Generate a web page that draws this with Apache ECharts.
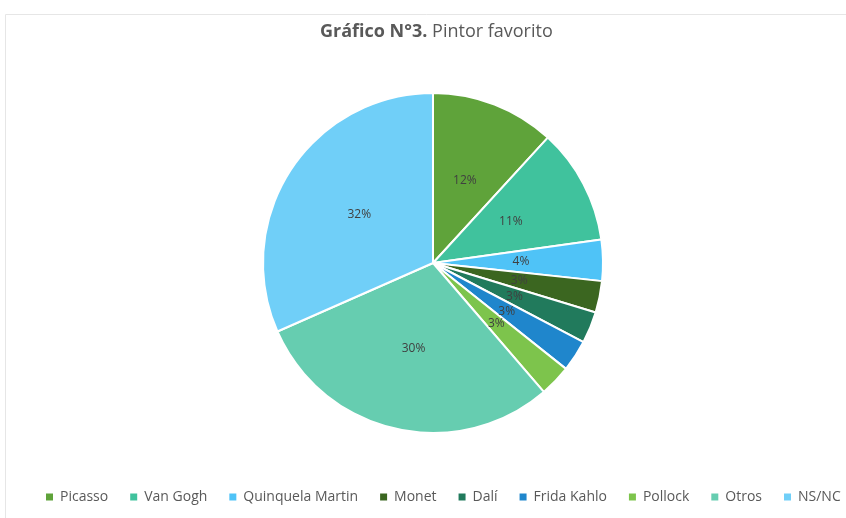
<!DOCTYPE html>
<html>
<head>
<meta charset="utf-8">
<script src="https://cdn.jsdelivr.net/npm/echarts@6/dist/echarts.min.js"></script>
<style>html,body{margin:0;padding:0;background:#fff;}#c{width:846px;height:518px;}</style>
</head>
<body>
<div id="c"></div>
<script>
const categories = ['Picasso','Van Gogh','Quinquela Martin','Monet','Dalí','Frida Kahlo','Pollock','Otros','NS/NC'];
const values = [11.8, 11.0, 3.9, 3.0, 3.0, 3.0, 3.0, 29.7, 31.6];
const colors = ['#5fa33a','#40c29d','#4fc3f7','#3b6620','#217a5c','#1f86cc','#7dc44c','#66cdb0','#70cff8'];

const chart = echarts.init(document.getElementById('c'));
chart.setOption({
  animation: false,
  backgroundColor: '#ffffff',
  graphic: [{
    type: 'rect',
    shape: {x: 5.5, y: 14.5, width: 900, height: 600},
    style: {fill: 'none', stroke: '#e6e6e6', lineWidth: 1},
    silent: true
  }],
  title: {
    text: '{b|Gráfico N°3.} {n|Pintor favorito}',
    left: 315,
    top: 18,
    textStyle: {
      fontFamily: 'Open Sans',
      fontSize: 18,
      fontWeight: 'normal',
      color: '#595959',
      rich: {
        b: {fontFamily: 'Open Sans', fontSize: 18, fontWeight: 'bold', color: '#595959'},
        n: {fontFamily: 'Open Sans', fontSize: 18, color: '#595959'}
      }
    }
  },
  legend: {
    bottom: 14,
    left: 44,
    width: 802,
    padding: 0,
    itemWidth: 9,
    itemHeight: 9,
    itemGap: 20,
    icon: 'rect',
    textStyle: {fontFamily: 'Open Sans', fontSize: 14, color: '#595959', padding: [0, 0, 0, 1]},
    data: categories
  },
  series: [{
    type: 'pie',
    center: [433, 263],
    radius: [0, 170],
    startAngle: 90,
    clockwise: true,
    avoidLabelOverlap: false,
    itemStyle: {borderColor: '#ffffff', borderWidth: 2},
    label: {
      position: 'inside',
      fontFamily: 'Open Sans',
      fontSize: 12,
      color: '#404040',
      formatter: p => Math.round(p.percent) + '%'
    },
    labelLine: {show: false},
    emphasis: {disabled: true},
    data: categories.map((c, i) => ({name: c, value: values[i], itemStyle: {color: colors[i]}}))
  }]
});
</script>
</body>
</html>
